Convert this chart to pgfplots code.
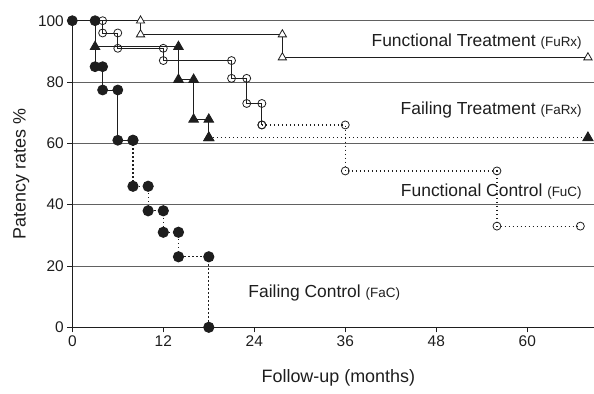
\documentclass[border=0pt]{standalone}
\usepackage{fontspec}
\setmainfont{Liberation Sans}
\usepackage{pgfplots}
\pgfplotsset{compat=1.18}
\definecolor{ink}{HTML}{1E1E1E}
\begin{document}
\begin{tikzpicture}
\begin{axis}[
  scale only axis,
  width=521.7bp, height=306.6bp,
  xmin=0, xmax=68.8, ymin=0, ymax=100,
  axis lines=left,
  axis line style={-, ink, line width=0.9pt},
  clip=false,
  xtick={0,12,...,60}, ytick={0,20,...,100},
  tick align=outside, major tick length=5bp,
  tick style={ink, line width=0.8pt},
  ymajorgrids,
  major grid style={black!62, line width=0.9pt},
  ticklabel style={font=\fontsize{15.5}{18}\selectfont, text=ink},
  /pgf/number format/assume math mode=true,
  xlabel={Follow-up (months)}, ylabel={Patency rates \%},
  label style={font=\fontsize{18}{21}\selectfont, text=ink},
  xlabel style={at={(axis description cs:0.51,-0.1654)}, anchor=center},
  ylabel style={at={(axis description cs:-0.098,0.5)}, anchor=center},
  every axis plot/.append style={ink, line width=0.8pt},
  dots/.style={line width=1.2pt, dash pattern=on 1.3bp off 2.7bp},
]
% ---- Functional Treatment (FuRx), open triangles
\addplot[no marks] coordinates {(0,100)(9,100)};
\addplot[mark=triangle*, mark size=4.8pt, mark options={fill=white, line width=0.8pt}] coordinates {(9,100)(9,95.5)(27.7,95.5)(27.7,88)(68,88)};
% ---- Functional Control (FuC), open circles
\addplot[no marks] coordinates {(0,100)(4,100)};
\addplot[dots, mark=o, mark size=4pt, mark options={solid, fill=white, line width=0.8pt}] coordinates {(25,66)(36,66)(36,51)(56,51)(56,33)(67,33)};
\addplot[mark=o, mark size=4pt, mark options={fill=white, line width=0.8pt}] coordinates {(4,100)(4,96)(6,96)(6,91)(12,91)(12,87)(21,87)(21,81.2)(23,81.2)(23,73)(25,73)(25,66)};
% ---- Failing Treatment (FaRx), filled triangles
\addplot[no marks] coordinates {(0,100)(3,100)(3,91.5)};
\addplot[dots, mark=triangle*, mark size=5.6pt, mark options={solid}] coordinates {(18,61.8)(68,61.8)};
\addplot[mark=triangle*, mark size=5.6pt] coordinates {(3,91.5)(14,91.5)(14,80.8)(16,80.8)(16,67.8)(18,67.8)(18,61.8)};
% ---- Failing Control (FaC), filled circles
\addplot[dots, mark=*, mark size=5pt, mark options={solid}] coordinates {(8,61)(8,46)(10,46)(10,38)(12,38)(12,31)(14,31)(14,23)(18,23)(18,0)};
\addplot[mark=*, mark size=5pt] coordinates {(0,100)(3,100)(3,85)(4,85)(4,77.4)(6,77.4)(6,61)(8,61)};
% ---- annotations
\node[anchor=base east, text=ink, inner sep=0pt] at (axis cs:67.2,91.6) {\fontsize{17.5}{20}\selectfont Functional Treatment {\fontsize{13.5}{16}\selectfont (FuRx)}};
\node[anchor=base east, text=ink, inner sep=0pt] at (axis cs:67.2,69.4) {\fontsize{17.5}{20}\selectfont Failing Treatment {\fontsize{13.5}{16}\selectfont (FaRx)}};
\node[anchor=base east, text=ink, inner sep=0pt] at (axis cs:67.2,42.7) {\fontsize{17.5}{20}\selectfont Functional Control {\fontsize{13.5}{16}\selectfont (FuC)}};
\node[anchor=base west, text=ink, inner sep=0pt] at (axis cs:23.2,9.6) {\fontsize{17.5}{20}\selectfont Failing Control {\fontsize{13.5}{16}\selectfont (FaC)}};
\end{axis}
\pgfresetboundingbox
\path[use as bounding box] (-72.3bp,-66.7bp) rectangle (521.7bp,327.3bp);
\end{tikzpicture}
\end{document}
